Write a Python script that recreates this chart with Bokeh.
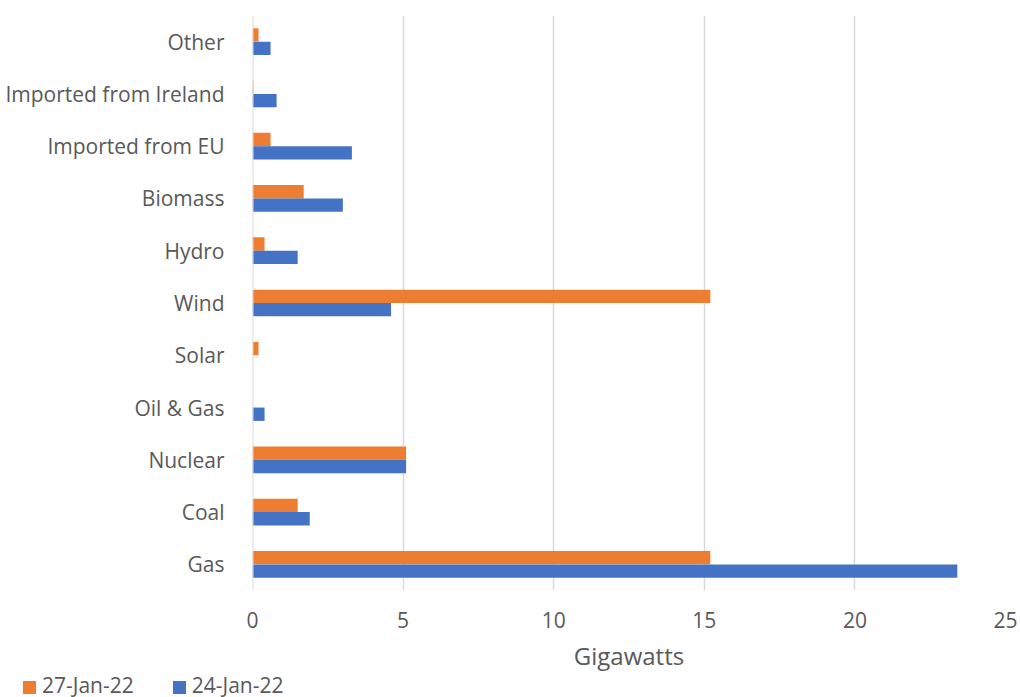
from bokeh.plotting import figure
from bokeh.models import ColumnDataSource, FactorRange, Range1d, Span, Div
from bokeh.layouts import column
from bokeh.transform import dodge
from bokeh.embed import file_html
from bokeh.resources import INLINE

categories = ["Gas", "Coal", "Nuclear", "Oil & Gas", "Solar", "Wind", "Hydro",
              "Biomass", "Imported from EU", "Imported from Ireland", "Other"]
jan27 = [15.2, 1.5, 5.1, 0.0, 0.2, 15.2, 0.4, 1.7, 0.6, 0.03, 0.2]
jan24 = [23.4, 1.9, 5.1, 0.4, 0.0, 4.6, 1.5, 3.0, 3.3, 0.8, 0.6]
series_names = ["27-Jan-22", "24-Jan-22"]
x_ticks = [0, 5, 10, 15, 20, 25]
colors = ["#ED7D31", "#4472C4"]

src = ColumnDataSource(dict(cat=categories, a=jan27, b=jan24))

FONT = "Open Sans"
GREY = "#595959"

p = figure(width=1020, height=674, output_backend="svg", toolbar_location=None,
           y_range=FactorRange(*categories, range_padding=0),
           x_range=Range1d(0, 25),
           min_border_left=252, min_border_right=15, min_border_top=15,
           min_border_bottom=81)
p.outline_line_color = None
p.background_fill_color = "white"

zero = Span(location=0, dimension="height", line_color="#D9D9D9", line_width=2)
p.add_layout(zero)

h = 0.255
r1 = p.hbar(y=dodge("cat", 0.128, range=p.y_range), right="a", left=0, height=h,
            source=src, fill_color=colors[0], line_color=None)
r2 = p.hbar(y=dodge("cat", -0.128, range=p.y_range), right="b", left=0, height=h,
            source=src, fill_color=colors[1], line_color=None)

p.xaxis.ticker = x_ticks
p.xgrid.grid_line_color = "#D9D9D9"
p.xgrid.grid_line_width = 1.5
p.ygrid.grid_line_color = None

for ax in (p.xaxis[0], p.yaxis[0]):
    ax.axis_line_color = None
    ax.major_tick_line_color = None
    ax.minor_tick_line_color = None
    ax.major_label_text_font = FONT
    ax.major_label_text_font_size = "21px"
    ax.major_label_text_color = GREY

p.xaxis.major_label_standoff = 15
p.yaxis.major_label_standoff = 22
p.xaxis.axis_label = "Gigawatts"
p.xaxis.axis_label_text_font = FONT
p.xaxis.axis_label_text_font_size = "24px"
p.xaxis.axis_label_text_font_style = "normal"
p.xaxis.axis_label_text_color = GREY
p.xaxis.axis_label_standoff = 8

def swatch(color, left):
    return (f'<span style="display:inline-block;width:13px;height:13px;'
            f'background:{color};margin-left:{left}px;margin-right:6px;'
            f'vertical-align:-1px"></span>')

legend_html = (f'<div style="font-family:\'{FONT}\';font-size:21px;color:{GREY};'
               f'line-height:23px;white-space:nowrap">'
               f'{swatch(colors[0], 23)}{series_names[0]}'
               f'{swatch(colors[1], 39)}{series_names[1]}</div>')
leg = Div(text=legend_html, width=1020, height=23, margin=0)

open("out.html", "w").write(file_html(column(p, leg, spacing=0), INLINE))
